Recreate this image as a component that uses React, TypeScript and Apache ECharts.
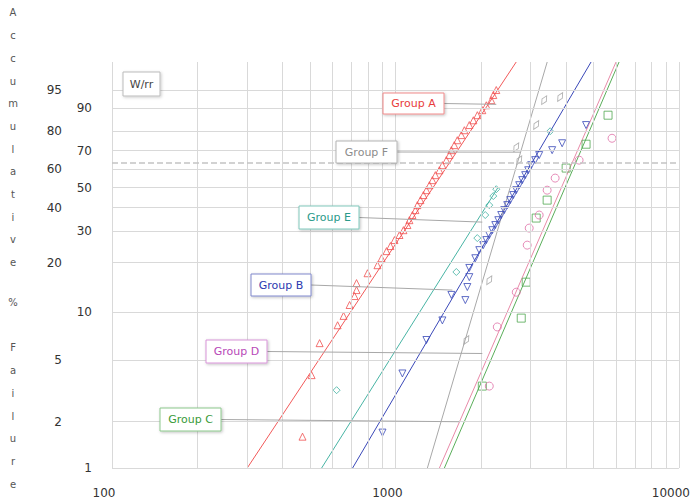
import React, { useEffect, useRef } from "react";
import * as echarts from "echarts";

// ---------- axis ticks ----------
const xMajorTicks = [100, 1000, 10000];
const xMinorGrid = [200, 300, 400, 500, 600, 700, 800, 900, 2000, 3000, 4000, 5000, 6000, 7000, 8000, 9000];
const yInnerTicks = [1, 10, 30, 50, 70, 90, 99];
const yOuterTicks = [2, 5, 20, 40, 60, 80, 95];
const characteristicPct = 63.2;

// ---------- data: [time, cumulative % failure] ----------
const groupATime = [470, 506, 540, 625, 656, 689, 717, 729, 729, 797, 864, 893, 930, 960, 992, 1033, 1067, 1102, 1120, 1148, 1176, 1195, 1225, 1255, 1286, 1318, 1350, 1383, 1429, 1464, 1512, 1549, 1575, 1613, 1653, 1708, 1750, 1822, 1883, 1945, 2025, 2092, 2178, 2214, 2268];
const groupAPct = [1.6, 4.0, 6.4, 8.3, 9.5, 11.1, 12.6, 13.7, 15.1, 17.3, 19.3, 21.2, 23.3, 24.9, 26.9, 28.7, 30.5, 32.5, 34.5, 36.7, 38.9, 41.2, 43.6, 46.1, 48.6, 51.2, 53.9, 56.6, 59.3, 62.1, 64.9, 67.7, 70.4, 73.1, 75.7, 78.3, 80.7, 83.1, 85.2, 87.3, 89.2, 90.9, 92.5, 93.9, 95.1];

const groupBTime = [900, 1058, 1286, 1464, 1575, 1764, 1793, 1822, 1822, 1913, 1976, 2041, 2092, 2143, 2196, 2250, 2306, 2362, 2420, 2480, 2541, 2604, 2668, 2733, 2801, 2869, 2940, 3012, 3112, 3214, 3571, 3873, 4704];
const groupBPct = [1.7, 4.1, 6.7, 8.9, 12.8, 11.9, 14.3, 16.4, 18.6, 21.2, 23.6, 25.2, 26.9, 28.7, 30.5, 32.5, 34.5, 36.7, 38.9, 41.2, 43.6, 46.1, 48.6, 51.2, 53.9, 56.6, 59.3, 62.1, 64.9, 67.7, 70.4, 74.1, 83.1];

const groupCTime = [2025, 2778, 2893, 3137, 3429, 4001, 4704, 5623];
const groupCPct = [3.4, 9.2, 15.3, 35.4, 43.6, 60.5, 73.6, 87.3];

const groupDTime = [2143, 2287, 2668, 2916, 2964, 3214, 3429, 3659, 4445, 5808];
const groupDPct = [3.4, 8.1, 13.3, 25.2, 31.3, 36.7, 48.6, 55.0, 64.9, 76.7];

const groupETime = [620, 1640, 1944, 2074, 2143, 2214, 2268, 3514];
const groupEPct = [3.2, 17.6, 27.6, 36.7, 41.2, 45.6, 49.1, 80.2];

const groupFTime = [1778, 2143, 2667, 2733, 3137, 3347, 3811];
const groupFPct = [6.7, 15.7, 72.0, 64.9, 83.1, 92.5, 93.4];

// Weibull fit lines: [time, %] at both ends
const fitA = [[300, 1], [2667, 99]];
const fitB = [[706, 1], [4898, 99]];
const fitC = [[1488, 1], [6150, 99]];
const fitD = [[1429, 1], [6000, 99]];
const fitE = [[549, 1], [2300, 50]];
const fitF = [[1296, 1], [3430, 99]];

// leader targets [time, %]
const leaderA = [2268, 91.2];
const leaderF = [2754, 69.3];
const leaderE = [2025, 33.7];
const leaderB = [1588, 13.7];
const leaderD = [2025, 5.5];
const leaderC = [1680, 2.0];

const FONT = '"DejaVu Sans", "Noto Sans", sans-serif';

const wb = (pct: number) => Math.log(-Math.log(1 - pct / 100));

const COLORS = {
  A: { line: "#f25a5a", pt: "#f05050", text: "#e83c3c", border: "#f08a8a" },
  B: { line: "#3a48b8", pt: "#3848b8", text: "#2c3ab0", border: "#8088cc" },
  C: { line: "#5aae5a", pt: "#50a850", text: "#3a9a3a", border: "#8cc88c" },
  D: { line: "#e88aa8", pt: "#e070a8", text: "#b848b8", border: "#d894d8" },
  E: { line: "#48b4a4", pt: "#40b0a0", text: "#2a9a8a", border: "#80c8bc" },
  F: { line: "#a8a8a8", pt: "#a0a0a0", text: "#8c8c8c", border: "#b4b4b4" },
};

const fitSeries = (name: string, fit: number[][], color: string) => ({
  type: "line",
  name,
  data: fit.map((p) => [p[0], wb(p[1])]),
  symbol: "none",
  silent: true,
  lineStyle: { color, width: 1 },
  z: 3,
});

const scatterSeries = (
  name: string,
  times: number[],
  pcts: number[],
  symbol: string,
  color: string,
  size: any,
  rotate = 0
) => ({
  type: "scatter",
  name,
  data: times.map((t, i) => [t, wb(pcts[i])]),
  symbol,
  symbolSize: size,
  symbolRotate: rotate,
  silent: true,
  itemStyle: { color: "rgba(255,255,255,0)", borderColor: color, borderWidth: 1 },
  z: 4,
});

export default function App() {
  const ref = useRef<HTMLDivElement>(null);

  useEffect(() => {
    const el = ref.current;
    if (!el) return;
    const chart = echarts.init(el, null, { renderer: "svg" });

    const gridLineData: any[] = [
      ...xMajorTicks.map((v) => ({ xAxis: v, label: { show: false } })),
      ...xMinorGrid.map((v) => ({ xAxis: v, label: { show: false } })),
      ...yInnerTicks.map((p) => ({ yAxis: wb(p), label: { show: true, formatter: String(p), distance: 20 } })),
      ...yOuterTicks.map((p) => ({ yAxis: wb(p), label: { show: true, formatter: String(p), distance: 50 } })),
    ];

    const option: any = {
      animation: false,
      backgroundColor: "#ffffff",
      grid: { left: 112, right: 13, top: 62, bottom: 34 },
      xAxis: {
        type: "log",
        logBase: 10,
        min: 100,
        max: 10000,
        axisLine: { show: false },
        axisTick: { show: false },
        splitLine: { show: false },
        axisLabel: {
          color: "#333",
          fontSize: 12,
          fontFamily: FONT,
          margin: 19,
          padding: [0, 16, 0, 0],
          formatter: (v: number) => String(Math.round(v)),
        },
      },
      yAxis: {
        type: "value",
        min: wb(1),
        max: wb(99),
        axisLine: { show: false },
        axisTick: { show: false },
        splitLine: { show: false },
        axisLabel: { show: false },
      },
      series: [
        {
          type: "line",
          data: [],
          silent: true,
          z: 1,
          markLine: {
            silent: true,
            animation: false,
            symbol: ["none", "none"],
            lineStyle: { color: "#d9d9d9", type: "solid", width: 1 },
            emphasis: { disabled: true },
            label: {
              show: true,
              position: "start",
              color: "#333",
              fontSize: 12,
              fontFamily: FONT,
            },
            data: [
              ...gridLineData,
              {
                yAxis: wb(characteristicPct),
                label: { show: false },
                lineStyle: { color: "#c4c4c4", type: [6, 3], width: 1.5 },
              },
            ],
          },
        },
        fitSeries("Group A fit", fitA, COLORS.A.line),
        fitSeries("Group E fit", fitE, COLORS.E.line),
        fitSeries("Group B fit", fitB, COLORS.B.line),
        fitSeries("Group F fit", fitF, COLORS.F.line),
        fitSeries("Group D fit", fitD, COLORS.D.line),
        fitSeries("Group C fit", fitC, COLORS.C.line),
        scatterSeries("Group A", groupATime, groupAPct, "triangle", COLORS.A.pt, 7),
        scatterSeries("Group B", groupBTime, groupBPct, "triangle", COLORS.B.pt, 7, 180),
        scatterSeries("Group C", groupCTime, groupCPct, "rect", COLORS.C.pt, 8),
        scatterSeries("Group D", groupDTime, groupDPct, "circle", COLORS.D.pt, 8),
        scatterSeries("Group E", groupETime, groupEPct, "diamond", COLORS.E.pt, 7),
        scatterSeries("Group F", groupFTime, groupFPct, "diamond", COLORS.F.pt, [5, 10], -30),
      ],
    };

    chart.setOption(option);

    const toPx = (p: number[]) => chart.convertToPixel({ gridIndex: 0 }, [p[0], wb(p[1])]) as number[];

    const boxes = [
      { text: "Group A", x: 383, y: 93, w: 61, h: 21, c: COLORS.A, target: leaderA },
      { text: "Group F", x: 336, y: 141, w: 61, h: 22, c: COLORS.F, target: leaderF },
      { text: "Group E", x: 299, y: 206, w: 60, h: 23, c: COLORS.E, target: leaderE },
      { text: "Group B", x: 251, y: 274, w: 60, h: 22, c: COLORS.B, target: leaderB },
      { text: "Group D", x: 206, y: 340, w: 61, h: 23, c: COLORS.D, target: leaderD },
      { text: "Group C", x: 160, y: 408, w: 61, h: 23, c: COLORS.C, target: leaderC },
    ];

    const graphics: any[] = [];
    boxes.forEach((b) => {
      const end = toPx(b.target);
      graphics.push({
        type: "line",
        silent: true,
        z: 10,
        shape: { x1: b.x + b.w, y1: b.y + b.h / 2, x2: end[0], y2: end[1] },
        style: { stroke: "#a8a8a8", lineWidth: 1 },
      });
      graphics.push({
        type: "rect",
        silent: true,
        z: 11,
        shape: { x: b.x, y: b.y, width: b.w, height: b.h },
        style: {
          fill: "#ffffff",
          stroke: b.c.border,
          lineWidth: 1,
          shadowBlur: 3,
          shadowColor: "rgba(0,0,0,0.25)",
          shadowOffsetX: 1,
          shadowOffsetY: 1,
        },
      });
      graphics.push({
        type: "text",
        silent: true,
        z: 12,
        x: b.x + b.w / 2,
        y: b.y + b.h / 2,
        style: { text: b.text, fill: b.c.text, font: `11px ${FONT}`, align: "center", verticalAlign: "middle" },
      });
    });

    // W/rr box
    graphics.push({
      type: "rect",
      silent: true,
      z: 11,
      shape: { x: 123, y: 72, width: 37, height: 24 },
      style: {
        fill: "#ffffff",
        stroke: "#bbbbbb",
        lineWidth: 1,
        shadowBlur: 3,
        shadowColor: "rgba(0,0,0,0.2)",
        shadowOffsetX: 1,
        shadowOffsetY: 1,
      },
    });
    graphics.push({
      type: "text",
      silent: true,
      z: 12,
      x: 141.5,
      y: 84,
      style: { text: "W/rr", fill: "#444", font: `11px ${FONT}`, align: "center", verticalAlign: "middle" },
    });

    // vertical axis title
    const titleStyle = { fill: "#555", font: `10px ${FONT}`, align: "center", verticalAlign: "top", lineHeight: 22.7 };
    graphics.push({
      type: "text",
      silent: true,
      x: 13,
      y: 1.6,
      style: { ...titleStyle, text: "Accumulative".split("").join("\n") },
    });
    graphics.push({
      type: "text",
      silent: true,
      x: 13,
      y: 291.6,
      style: { ...titleStyle, text: "%" },
    });
    graphics.push({
      type: "text",
      silent: true,
      x: 13,
      y: 336.6,
      style: { ...titleStyle, text: "Failure".split("").join("\n") },
    });

    chart.setOption({ graphic: graphics });

    return () => {
      chart.dispose();
    };
  }, []);

  return (
    <div
      ref={ref}
      style={{ position: "fixed", left: 0, top: 0, width: 693, height: 502, background: "#fff" }}
    />
  );
}
